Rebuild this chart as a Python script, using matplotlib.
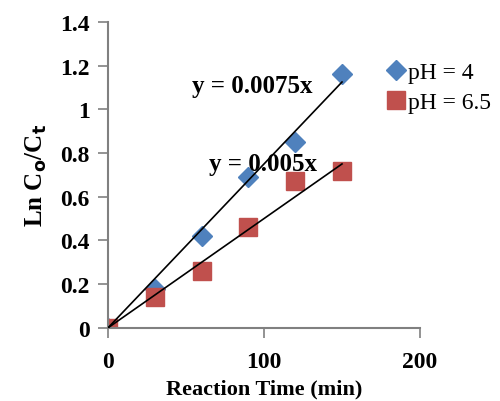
import numpy as np
import matplotlib.pyplot as plt

plt.rcParams['font.family'] = ['Liberation Serif', 'DejaVu Serif']

time_min = [0, 30, 60, 90, 120, 150]
ph4 = [0, 0.18, 0.42, 0.69, 0.85, 1.16]
ph65 = [0, 0.14, 0.26, 0.46, 0.67, 0.72]
slope_ph4 = 0.0075
slope_ph65 = 0.005

fig = plt.figure(figsize=(5, 4.02), dpi=100)
ax = fig.add_axes([0.216, 0.182, 0.624, 0.761])

grey = '#808080'
x_fit = np.array([0, 150])
ax.plot(x_fit, slope_ph4 * x_fit, color='black', lw=1.2, zorder=3)
ax.plot(x_fit, slope_ph65 * x_fit, color='black', lw=1.2, zorder=3)
ax.plot(time_min, ph4, 'D', color='#4F81BD', ms=10, ls='none', label='pH = 4', zorder=2)
ax.plot(time_min, ph65, 's', color='#C0504D', ms=13, ls='none', label='pH = 6.5', zorder=2)

ax.text(54, 1.11, 'y = 0.0075x', fontsize=18, fontweight='bold', va='center')
ax.text(65, 0.75, 'y = 0.005x', fontsize=18, fontweight='bold', va='center')

ax.set_xlim(0, 200)
ax.set_ylim(0, 1.4)
ax.set_xticks([0, 100, 200])
ax.set_yticks(np.arange(0, 1.41, 0.2))
ax.set_yticklabels(['0', '0.2', '0.4', '0.6', '0.8', '1', '1.2', '1.4'])
ax.tick_params(colors=grey, labelcolor='black', labelsize=17, width=1.2, length=7)
for lab in ax.get_xticklabels() + ax.get_yticklabels():
    lab.set_fontweight('bold')
for s in ['top', 'right']:
    ax.spines[s].set_visible(False)
for s in ['left', 'bottom']:
    ax.spines[s].set_color(grey)
    ax.spines[s].set_linewidth(1.5)
ax.tick_params(axis='x', pad=10)
ax.tick_params(axis='y', pad=6)

ax.set_xlabel('Reaction Time (min)', fontsize=16, fontweight='bold', labelpad=4)
ax.set_ylabel('Ln C$_\\mathbf{o}$/C$_\\mathbf{t}$', fontsize=18, fontweight='bold', labelpad=8)

ax.legend(loc='upper left', bbox_to_anchor=(0.855, 0.9), frameon=False, fontsize=17,
          handletextpad=0.0, handlelength=1.0, borderaxespad=0, labelspacing=0.35)

fig.savefig('out.png', dpi=100)
